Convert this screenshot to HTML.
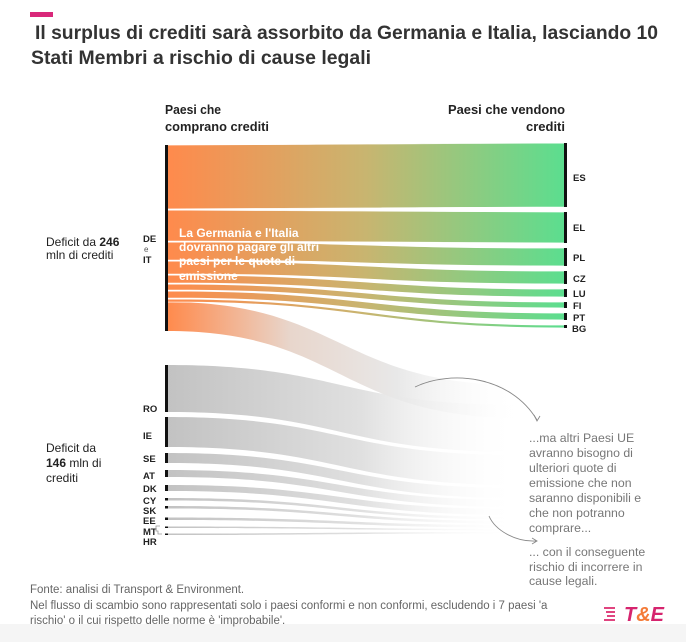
<!DOCTYPE html>
<html><head><meta charset="utf-8"><style>
html,body{margin:0;padding:0;background:#fff;}
svg{display:block;font-family:"Liberation Sans",sans-serif;}
</style></head><body>
<svg width="686" height="642" viewBox="0 0 686 642" xmlns="http://www.w3.org/2000/svg">
<defs>
<linearGradient id="og" gradientUnits="userSpaceOnUse" x1="167" y1="0" x2="565" y2="0">
<stop offset="0" stop-color="#ff8a4c"/><stop offset="0.5" stop-color="#c8b570"/><stop offset="1" stop-color="#5bde8f"/></linearGradient>
<linearGradient id="gg" gradientUnits="userSpaceOnUse" x1="167" y1="0" x2="520" y2="0">
<stop offset="0" stop-color="#c2c2c2"/><stop offset="0.55" stop-color="#e0e0e0"/><stop offset="1" stop-color="#ffffff" stop-opacity="0"/></linearGradient>
<linearGradient id="fg" gradientUnits="userSpaceOnUse" x1="167" y1="0" x2="520" y2="0">
<stop offset="0" stop-color="#ff8a4c"/><stop offset="0.35" stop-color="#e8d6cc"/><stop offset="0.65" stop-color="#e8e8e8"/><stop offset="1" stop-color="#ffffff" stop-opacity="0"/></linearGradient>
</defs>
<rect x="0" y="624" width="686" height="18" fill="#f5f5f5"/>
<rect x="30" y="12" width="23" height="5" fill="#d9287a"/>
<text x="35" y="39" font-size="19" font-weight="bold" fill="#333" textLength="623" lengthAdjust="spacingAndGlyphs">Il surplus di crediti sarà assorbito da Germania e Italia, lasciando 10</text>
<text x="31" y="64" font-size="19" font-weight="bold" fill="#333" textLength="340" lengthAdjust="spacingAndGlyphs">Stati Membri a rischio di cause legali</text>
<g font-size="13" font-weight="bold" fill="#222">
<text x="165" y="114" textLength="56" lengthAdjust="spacingAndGlyphs">Paesi che</text>
<text x="165" y="131" textLength="104" lengthAdjust="spacingAndGlyphs">comprano crediti</text>
<text x="565" y="114" text-anchor="end" textLength="117" lengthAdjust="spacingAndGlyphs" >Paesi che vendono</text>
<text x="565" y="131" text-anchor="end">crediti</text>
</g>
<g fill="url(#gg)" stroke="none">
<path d="M167,365 C340,365 340,405 520,405 L520,452 C340,452 340,412 167,412Z"/>
<path d="M167,417 C340,417 340,455 520,455 L520,485 C340,485 340,447 167,447Z"/>
<path d="M167,453 C340,453 340,488 520,488 L520,498 C340,498 340,463 167,463Z"/>
<path d="M167,470 C340,470 340,500 520,500 L520,507 C340,507 340,477 167,477Z"/>
<path d="M167,485 C340,485 340,509 520,509 L520,515 C340,515 340,491 167,491Z"/>
<path d="M167,498 C340,498 340,517 520,517 L520,519.5 C340,519.5 340,500.5 167,500.5Z"/>
<path d="M167,506 C340,506 340,521 520,521 L520,523.5 C340,523.5 340,508.5 167,508.5Z"/>
<path d="M167,517.5 C340,517.5 340,525 520,525 L520,527.5 C340,527.5 340,520 167,520Z"/>
<path d="M167,526.5 C340,526.5 340,529 520,529 L520,530.5 C340,530.5 340,528 167,528Z"/>
<path d="M167,533.5 C340,533.5 340,532 520,532 L520,533.5 C340,533.5 340,535 167,535Z"/>
</g>
<path d="M167,302 C340,302 340,385 520,385 L520,418 C340,418 340,331 167,331Z" fill="url(#fg)"/>
<g fill="url(#og)" stroke="#fff" stroke-width="0.8">
<path d="M167,145 C366,145 366,143 565,143 L565,207 C366,207 366,209 167,209Z"/>
<path d="M167,210 C366,210 366,212 565,212 L565,243 C366,243 366,241 167,241Z"/>
<path d="M167,242 C366,242 366,248 565,248 L565,266 C366,266 366,260 167,260Z"/>
<path d="M167,261 C366,261 366,271 565,271 L565,284 C366,284 366,274 167,274Z"/>
<path d="M167,275 C366,275 366,289 565,289 L565,297 C366,297 366,283 167,283Z"/>
<path d="M167,284 C366,284 366,302 565,302 L565,308 C366,308 366,290 167,290Z"/>
<path d="M167,291 C366,291 366,313 565,313 L565,320 C366,320 366,298 167,298Z"/>
<path d="M167,299 C366,299 366,325 565,325 L565,328 C366,328 366,302 167,302Z"/>
</g>
<g fill="#fff" font-size="12" font-weight="bold">
<text x="179" y="237">La Germania e l'Italia</text>
<text x="179" y="251">dovranno pagare gli altri</text>
<text x="179" y="265">paesi per le quote di</text>
<text x="179" y="280">emissione</text>
</g>
<g fill="#111">
<rect x="165" y="145" width="3" height="186"/>
<rect x="165" y="365" width="3" height="47"/>
<rect x="165" y="417" width="3" height="30"/>
<rect x="165" y="453" width="3" height="10"/>
<rect x="165" y="470" width="3" height="7"/>
<rect x="165" y="485" width="3" height="6"/>
<rect x="165" y="498" width="3" height="2.5"/>
<rect x="165" y="506" width="3" height="2.5"/>
<rect x="165" y="517.5" width="3" height="2.5"/>
<rect x="165" y="526.5" width="3" height="1.5"/>
<rect x="165" y="533.5" width="3" height="1.5"/>
<rect x="564" y="143" width="3" height="64"/>
<rect x="564" y="212" width="3" height="31"/>
<rect x="564" y="248" width="3" height="18"/>
<rect x="564" y="271" width="3" height="13"/>
<rect x="564" y="289" width="3" height="8"/>
<rect x="564" y="302" width="3" height="6"/>
<rect x="564" y="313" width="3" height="7"/>
<rect x="564" y="325" width="3" height="3"/>
</g>
<g font-size="9.5" font-weight="bold" fill="#222">
<text x="573" y="181">ES</text><text x="573" y="231">EL</text><text x="573" y="261">PL</text>
<text x="573" y="282">CZ</text><text x="573" y="297">LU</text><text x="573" y="309">FI</text>
<text x="573" y="321">PT</text><text x="572" y="332">BG</text>
<text x="143" y="242">DE</text><text x="143" y="263">IT</text>
<text x="143" y="412">RO</text><text x="143" y="439">IE</text><text x="143" y="462">SE</text>
<text x="143" y="479">AT</text><text x="143" y="492">DK</text><text x="143" y="504">CY</text>
<text x="143" y="514">SK</text><text x="143" y="524">EE</text><text x="143" y="535">MT</text>
<text x="143" y="545">HR</text>
</g>
<text x="144" y="252" font-size="8" fill="#555">e</text>
<path d="M160,526 L156,526 L156,531 L158,531 L158,534 L162,534" fill="none" stroke="#999" stroke-width="0.8"/>
<g font-size="12" fill="#222">
<text x="46" y="246">Deficit da <tspan font-weight="bold">246</tspan></text>
<text x="46" y="259">mln di crediti</text>
<text x="46" y="452">Deficit da</text>
<text x="46" y="467"><tspan font-weight="bold">146</tspan> mln di</text>
<text x="46" y="482">crediti</text>
</g>
<g fill="none" stroke="#888" stroke-width="0.9">
<path d="M415,387 C450,370 510,375 537,420"/>
<path d="M534,415 L537,421 L540,416"/>
<path d="M489,516 C495,530 515,542 536,541"/>
<path d="M532,538 L537,541 L532,544"/>
</g>
<g font-size="12.3" fill="#777">
<text x="529" y="442">...ma altri Paesi UE</text>
<text x="529" y="457">avranno bisogno di</text>
<text x="529" y="472">ulteriori quote di</text>
<text x="529" y="487">emissione che non</text>
<text x="529" y="502">saranno disponibili e</text>
<text x="529" y="517">che non potranno</text>
<text x="529" y="532">comprare...</text>
<text x="529" y="556">... con il conseguente</text>
<text x="529" y="571">rischio di incorrere in</text>
<text x="529" y="585">cause legali.</text>
</g>
<g font-size="11.5" fill="#666">
<text x="30" y="593">Fonte: analisi di Transport &amp; Environment.</text>
<text x="30" y="609">Nel flusso di scambio sono rappresentati solo i paesi conformi e non conformi, escludendo i 7 paesi 'a</text>
<text x="30" y="624">rischio' o il cui rispetto delle norme è 'improbabile'.</text>
</g>
<g fill="#e0447f">
<rect x="604" y="607" width="11" height="2"/><rect x="606" y="611" width="9" height="2"/>
<rect x="607" y="615" width="8" height="2"/><rect x="604" y="619" width="11" height="2"/>
</g>
<text x="624" y="621" font-size="20" font-weight="bold" font-style="italic"><tspan fill="#d6246e">T</tspan><tspan fill="#f47b38">&amp;</tspan><tspan fill="#d6246e">E</tspan></text>
</svg>
</body></html>
